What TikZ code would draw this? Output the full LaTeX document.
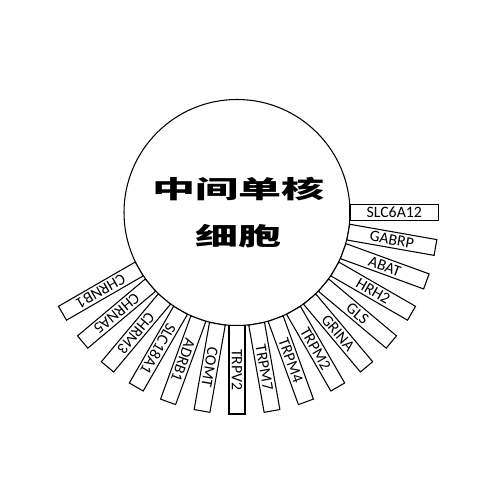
\documentclass[tikz,border=0pt]{standalone}
\usepackage{fontspec}
\setmainfont{Carlito}
\newfontfamily\cjk{Noto Sans CJK SC}
\tikzset{
  genebox/.style={draw, semithick, fill=white, minimum width=1.77cm, minimum height=0.32cm, inner sep=0pt, font=\fontsize{9}{10}\selectfont},
  cellnode/.style={draw, semithick, circle, minimum size=4.52cm, inner sep=0pt}
}
\begin{document}
\begin{tikzpicture}
    \useasboundingbox (0,0) rectangle (10,10);

    % the cell
    \node[cellnode] (cell) at (4.74,5.75) {};
    \node[font=\cjk\bfseries\fontsize{14}{27}\selectfont, xscale=1.75, align=center] (title) at (4.77,5.745) {中间单核\\细胞};

    % gene boxes round the cell
    \foreach \a/\g in {0/SLC6A12, -10/GABRP, -20/ABAT, -30/HRH2, -40/GLS, -50/GRINA, -60/TRPM2, -70/TRPM4, -80/TRPM7, -90/TRPV2, -100/COMT, -110/ADRB1, -120/SLC18A1, -130/CHRM3, -140/CHRNA5, -150/CHRNB1}
        \node[genebox, rotate=\a] (\g) at ([shift={(\a:3.145)}]cell.center) {\g};
\end{tikzpicture}
\end{document}
